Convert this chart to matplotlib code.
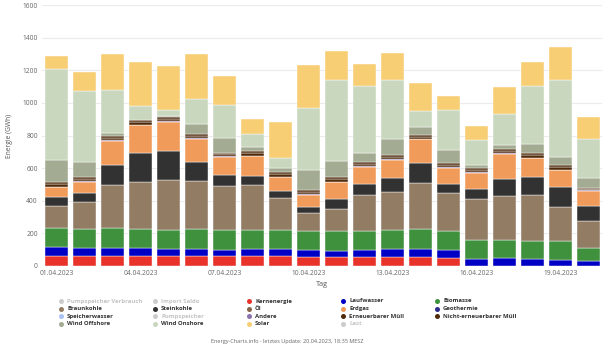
import matplotlib
matplotlib.use('Agg')
import matplotlib.pyplot as plt
import numpy as np

days = ['01.04.2023', '02.04.2023', '03.04.2023', '04.04.2023', '05.04.2023',
        '06.04.2023', '07.04.2023', '08.04.2023', '09.04.2023', '10.04.2023',
        '11.04.2023', '12.04.2023', '13.04.2023', '14.04.2023', '15.04.2023',
        '16.04.2023', '17.04.2023', '18.04.2023', '19.04.2023', '20.04.2023']

# Tageswerte in GWh
kernenergie = [61, 61, 61, 61, 61, 61, 61, 61, 61, 57, 57, 57, 57, 57, 51, 0, 0, 0, 0, 0]
laufwasser = [53, 49, 49, 47, 45, 41, 39, 41, 41, 39, 37, 39, 45, 49, 47, 41, 47, 41, 39, 29]
biomasse = [121, 119, 121, 119, 117, 123, 121, 119, 119, 119, 123, 121, 119, 119, 119, 118, 112, 114, 116, 83]
braunkohle = [135, 165, 263, 286, 304, 294, 271, 275, 196, 110, 134, 216, 235, 282, 232, 250, 272, 280, 207, 164]
steinkohle = [51, 51, 127, 182, 180, 118, 68, 56, 41, 37, 62, 70, 81, 124, 56, 63, 104, 108, 122, 94]
erdgas = [63, 72, 147, 169, 178, 143, 110, 122, 87, 75, 102, 106, 113, 147, 98, 100, 153, 119, 104, 90]
andere = [3, 3, 3, 3, 3, 3, 3, 3, 3, 3, 3, 3, 3, 3, 3, 3, 3, 3, 3, 3]
ern_muell = [15, 13, 14, 14, 13, 15, 11, 15, 13, 12, 14, 13, 14, 12, 12, 12, 13, 13, 13, 9]
nicht_ern_muell = [15, 12, 12, 12, 12, 13, 9, 13, 13, 12, 13, 12, 13, 12, 11, 12, 13, 13, 13, 8]
wind_offshore = [131, 92, 20, 5, 5, 61, 94, 24, 25, 124, 96, 54, 96, 49, 84, 20, 23, 55, 53, 57]
wind_onshore = [557, 434, 264, 85, 36, 152, 198, 82, 63, 380, 499, 414, 364, 98, 241, 155, 192, 355, 470, 241]
solar = [84, 116, 218, 265, 270, 275, 177, 90, 221, 264, 178, 133, 163, 172, 90, 86, 167, 149, 204, 133]

series = [
    (kernenergie, '#e8322a'),
    (laufwasser, '#0000c4'),
    (biomasse, '#3f913e'),
    (braunkohle, '#927d64'),
    (steinkohle, '#323232'),
    (erdgas, '#f09b5a'),
    (andere, '#8b72ad'),
    (ern_muell, '#4f2b0c'),
    (nicht_ern_muell, '#4f2b0c'),
    (wind_offshore, '#a3ac93'),
    (wind_onshore, '#c9d7bf'),
    (solar, '#f7ce74'),
]

legend_rows = [
    [('Pumpspeicher Verbrauch', None), ('Import Saldo', None), ('Kernenergie', '#e8322a'),
     ('Laufwasser', '#0000c4'), ('Biomasse', '#3f913e')],
    [('Braunkohle', '#927d64'), ('Steinkohle', '#323232'), ('Öl', '#86654a'),
     ('Erdgas', '#f09b5a'), ('Geothermie', '#2b2b8c')],
    [('Speicherwasser', '#a9c2f5'), ('Pumpspeicher', None), ('Andere', '#8b72ad'),
     ('Erneuerbarer Müll', '#4f2b0c'), ('Nicht-erneuerbarer Müll', '#4f2b0c')],
    [('Wind Offshore', '#a3ac93'), ('Wind Onshore', '#c9d7bf'), ('Solar', '#f7ce74'),
     ('Last', None)],
]

plt.rcParams['font.family'] = ['Open Sans', 'DejaVu Sans']

W, H = 610, 348
fig = plt.figure(figsize=(W / 100, H / 100), dpi=100)
ax = fig.add_axes([42 / W, 1 - 266 / H, 560 / W, 261 / H])

x = np.arange(len(days))
bottom = np.zeros(len(days))
for vals, col in series:
    ax.bar(x, vals, bottom=bottom, width=0.82, color=col,
           edgecolor='white', linewidth=0.3, zorder=3)
    bottom += np.array(vals)

ax.set_xlim(-0.52, 19.48)
ax.set_ylim(0, 1600)
ax.set_yticks(range(0, 1601, 200))
ax.yaxis.grid(True, color='#ebebeb', linewidth=0.8, zorder=0)
ax.set_xticks(x[::3])
ax.set_xticklabels(days[::3])
for s in ax.spines.values():
    s.set_visible(False)
ax.tick_params(length=0, labelsize=4.8, colors='#666666', pad=3)
ax.set_xlabel('Tag', fontsize=5.2, color='#555555', labelpad=3)
ax.set_ylabel('Energie (GWh)', fontsize=4.8, color='#555555', labelpad=7)

# Legende per Hand, 5 Spalten
lax = fig.add_axes([0, 0, 1, 1])
lax.set_xlim(0, W)
lax.set_ylim(H, 0)
lax.axis('off')
col_x = [61, 155, 249, 343, 437]
row_y = [301, 308.6, 316.2, 323.8]
for r, row in enumerate(legend_rows):
    for c, (name, col) in enumerate(row):
        mc = col if col else '#cccccc'
        tc = '#333333' if col else '#c4c4c4'
        lax.plot(col_x[c], row_y[r], 'o', color=mc, markersize=3.6, markeredgewidth=0)
        lax.text(col_x[c] + 6, row_y[r], name, fontsize=4.3, color=tc,
                 fontweight='bold', va='center', ha='left')

lax.text(287, 341.5, 'Energy-Charts.info - letztes Update: 20.04.2023, 18:35 MESZ',
         fontsize=4.0, color='#666666', ha='center', va='center')

fig.savefig('out.png', dpi=100)
